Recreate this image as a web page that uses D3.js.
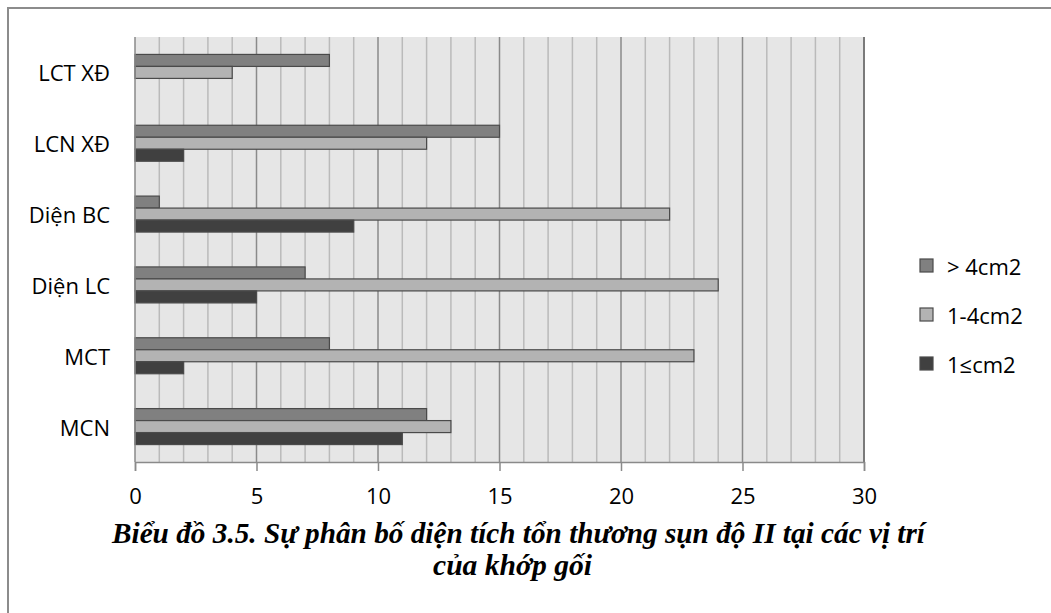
<!DOCTYPE html>
<html>
<head>
<meta charset="utf-8">
<script src="https://cdn.jsdelivr.net/npm/d3@7"></script>
<style>
  html, body { margin: 0; padding: 0; background: #fff; }
  svg { display: block; }
</style>
</head>
<body>
<svg id="chart" width="1051" height="613"></svg>
<script>
const categories = ["LCT XĐ", "LCN XĐ", "Diện BC", "Diện LC", "MCT", "MCN"];
const seriesNames = ["> 4cm2", "1-4cm2", "1≤cm2"];
const valuesOver4 = [8, 15, 1, 7, 8, 12];
const values1to4 = [4, 12, 22, 24, 23, 13];
const valuesUnder1 = [0, 2, 9, 5, 2, 11];
const xTicks = [0, 5, 10, 15, 20, 25, 30];
const captionLines = [
  "Biểu đồ 3.5. Sự phân bố diện tích tổn thương sụn độ II tại các vị trí",
  "của khớp gối"
];

const seriesValues = [valuesOver4, values1to4, valuesUnder1];
const colors = ["#808080", "#b3b3b3", "#404040"];

const svg = d3.select("#chart");
const W = 1051, H = 613;
const plot = { left: 135, right: 864, top: 37, bottom: 462 };
const sans = "'Open Sans', 'Noto Sans', sans-serif";

// outer border
svg.append("rect")
  .attr("x", 8).attr("y", 8)
  .attr("width", W + 10).attr("height", H + 10)
  .attr("fill", "#fff")
  .attr("stroke", "#8c8c8c").attr("stroke-width", 2);

const x = d3.scaleLinear().domain([0, 30]).range([plot.left, plot.right]);
const y0 = d3.scaleBand().domain(categories).range([plot.top, plot.bottom])
  .paddingInner(0.492).paddingOuter(0.246);
const y1 = d3.scaleBand().domain(seriesNames).range([0, y0.bandwidth()]);

// plot background
svg.append("rect")
  .attr("x", plot.left).attr("y", plot.top)
  .attr("width", plot.right - plot.left).attr("height", plot.bottom - plot.top)
  .attr("fill", "#e6e6e6");

// gridlines
const gridVals = d3.range(1, 30);
svg.append("g").selectAll("line").data(gridVals).join("line")
  .attr("x1", d => x(d)).attr("x2", d => x(d))
  .attr("y1", plot.top).attr("y2", plot.bottom)
  .attr("stroke", d => d % 5 === 0 ? "#8a8a8a" : "#bababa")
  .attr("stroke-width", 1.5);

// right border
svg.append("line")
  .attr("x1", plot.right).attr("x2", plot.right)
  .attr("y1", plot.top).attr("y2", plot.bottom)
  .attr("stroke", "#7a7a7a").attr("stroke-width", 2);

// bars
const rows = [];
categories.forEach((c, i) => {
  seriesNames.forEach((s, j) => {
    rows.push({ cat: c, ser: s, val: seriesValues[j][i], color: colors[j] });
  });
});
svg.append("g").selectAll("rect").data(rows.filter(d => d.val > 0)).join("rect")
  .attr("x", x(0))
  .attr("y", d => y0(d.cat) + y1(d.ser))
  .attr("width", d => x(d.val) - x(0))
  .attr("height", y1.bandwidth())
  .attr("fill", d => d.color)
  .attr("stroke", "#4a4a4a")
  .attr("stroke-width", 1.2);

// left axis line
svg.append("line")
  .attr("x1", plot.left).attr("x2", plot.left)
  .attr("y1", plot.top).attr("y2", plot.bottom)
  .attr("stroke", "#8a8a8a").attr("stroke-width", 1.5);

// bottom axis
const xAxis = d3.axisBottom(x).tickValues(xTicks).tickSize(9).tickPadding(17)
  .tickFormat(d3.format("d"));
const gx = svg.append("g").attr("transform", `translate(0,${plot.bottom})`).call(xAxis);
gx.select(".domain").attr("stroke", "#8a8a8a").attr("stroke-width", 1.5);
gx.selectAll(".tick line").attr("stroke", "#8a8a8a").attr("stroke-width", 1.5);
gx.selectAll(".tick text")
  .attr("font-family", sans).attr("font-size", 22).attr("fill", "#000");

// category labels
svg.append("g").selectAll("text").data(categories).join("text")
  .attr("x", 110)
  .attr("y", d => y0(d) + y0.bandwidth() / 2)
  .attr("text-anchor", "end")
  .attr("dominant-baseline", "central")
  .attr("font-family", sans).attr("font-size", 22).attr("fill", "#000")
  .text(d => d);

// legend
const legendY = d3.scalePoint().domain(seriesNames).range([266, 364]);
const lg = svg.append("g").selectAll("g").data(seriesNames).join("g")
  .attr("transform", d => `translate(920,${legendY(d)})`);
lg.append("rect")
  .attr("x", 0).attr("y", -7).attr("width", 13).attr("height", 13)
  .attr("fill", (d, i) => colors[i])
  .attr("stroke", "#4a4a4a").attr("stroke-width", 1.2);
lg.append("text")
  .attr("x", 27).attr("y", 0)
  .attr("dominant-baseline", "central")
  .attr("font-family", sans).attr("font-size", 22).attr("fill", "#000")
  .text(d => d);

// caption (condensed bold italic serif)
const serif = "'Liberation Serif', 'Times New Roman', serif";
const capSpecs = [
  { text: captionLines[0], x: 518.5, y: 543, len: 813 },
  { text: captionLines[1], x: 512.5, y: 575, len: 159 }
];
svg.append("g").selectAll("text").data(capSpecs).join("text")
  .attr("x", d => d.x).attr("y", d => d.y)
  .attr("text-anchor", "middle")
  .attr("font-family", serif)
  .attr("font-weight", "bold").attr("font-style", "italic")
  .attr("font-size", 30)
  .attr("textLength", d => d.len)
  .attr("lengthAdjust", "spacingAndGlyphs")
  .attr("fill", "#000")
  .text(d => d.text);
</script>
</body>
</html>
